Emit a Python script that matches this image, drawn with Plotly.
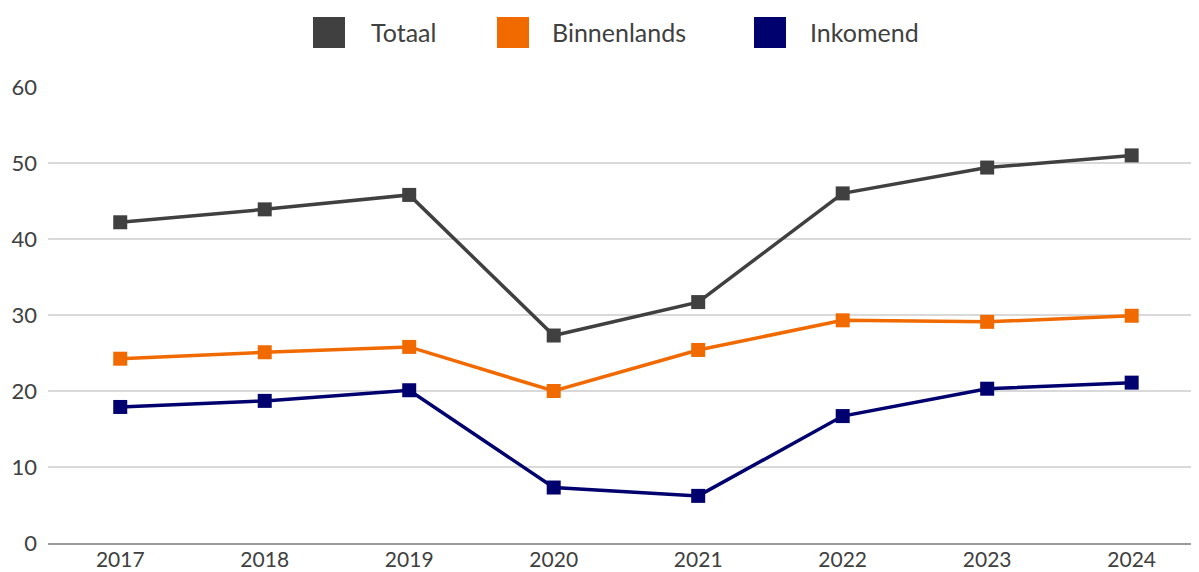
import plotly.graph_objects as go

years = ["2017", "2018", "2019", "2020", "2021", "2022", "2023", "2024"]
totaal = [42.2, 43.9, 45.8, 27.3, 31.7, 46.0, 49.4, 51.0]
binnenlands = [24.25, 25.1, 25.8, 20.0, 25.4, 29.3, 29.1, 29.9]
inkomend = [17.9, 18.7, 20.1, 7.3, 6.2, 16.7, 20.3, 21.1]

series_names = ["Totaal", "Binnenlands", "Inkomend"]
series_values = [totaal, binnenlands, inkomend]
colors = ["#404040", "#F06A00", "#00006E"]
y_ticks = [0, 10, 20, 30, 40, 50, 60]

# page body has an 8px margin; figure coords = screen coords - 8
W, H = 1191, 564
L, R, T, B = 40, 0, 79, 29
pw, ph = W - L - R, H - T - B

fig = go.Figure()
for name, vals, col in zip(series_names, series_values, colors):
    fig.add_trace(go.Scatter(
        x=years, y=vals, name=name, mode="lines+markers",
        line=dict(color=col, width=3.5),
        marker=dict(symbol="square", size=14, color=col),
        showlegend=False,
    ))

def px_x(x):
    return (x - L) / pw

def px_y(y):
    return (H - B - y) / ph

legend_sq = [305, 489, 746]
legend_tx = [361, 542, 800]
shapes = []
annotations = []
for name, col, sx, tx in zip(series_names, colors, legend_sq, legend_tx):
    shapes.append(dict(type="rect", xref="paper", yref="paper",
                       x0=px_x(sx), x1=px_x(sx + 32), y0=px_y(40), y1=px_y(9),
                       fillcolor=col, line=dict(width=0)))
    annotations.append(dict(xref="paper", yref="paper", x=px_x(tx), y=px_y(24),
                            xanchor="left", yanchor="middle", text=name, showarrow=False,
                            font=dict(family="Lato, sans-serif", size=25, color="#404040")))

fig.update_layout(
    width=W, height=H,
    margin=dict(l=L, r=R, t=T, b=B, autoexpand=False),
    paper_bgcolor="white", plot_bgcolor="white",
    shapes=shapes, annotations=annotations,
    showlegend=False,
    font=dict(family="Lato, sans-serif", size=22, color="#404040"),
)
fig.update_xaxes(
    type="category", range=[-0.5, 7.466], automargin=False,
    showgrid=False, showline=True, linecolor="#9a9a9a", linewidth=2,
    ticks="", ticklabelstandoff=-3, tickfont=dict(size=21, color="#404040"),
)
fig.update_yaxes(
    range=[0, 60], tickvals=y_ticks, automargin=False,
    showgrid=True, gridcolor="#d9d9d9", gridwidth=2,
    zeroline=False, showline=False, ticks="", ticklabelstandoff=10,
    tickfont=dict(size=22, color="#404040"),
)

fig.write_html("out.html")
